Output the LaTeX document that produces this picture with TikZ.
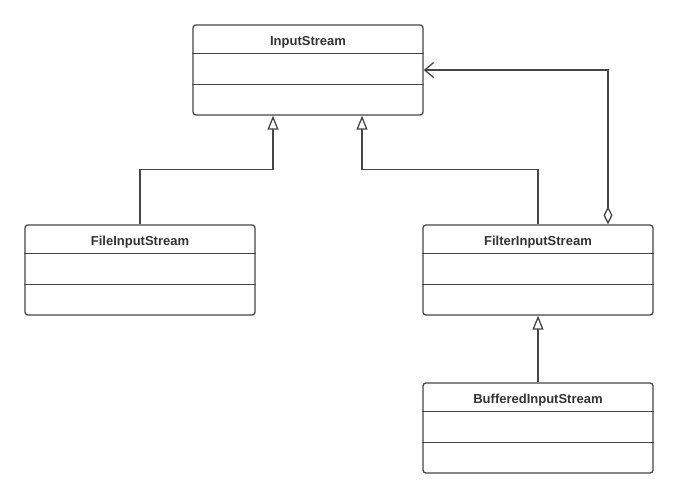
\documentclass[tikz,border=0pt]{standalone}
\usepackage{fontspec}
\setmainfont{Liberation Sans}
\usetikzlibrary{arrows.meta}
\definecolor{umlline}{HTML}{454545}
\definecolor{umltext}{HTML}{333333}
% one class box: name, centre, title
\newcommand{\umlbox}[3]{%
  \node[umlclass] (#1) at (#2) {};
  \node[umltitle] (#1-t) at ([yshift=-21.5pt]#1.north) {#3};
  \draw[umlline, line width=1.3pt] ([yshift=-29pt]#1.north west) -- ([yshift=-29pt]#1.north east);
  \draw[umlline, line width=1.3pt] ([yshift=-60pt]#1.north west) -- ([yshift=-60pt]#1.north east);
}

\begin{document}
\begin{tikzpicture}[x=1pt, y=-1pt,
  umlclass/.style={draw=umlline, line width=1.3pt, rounded corners=3pt, minimum width=230pt, minimum height=90pt, inner sep=0pt},
  umltitle/.style={text=umltext, font=\fontsize{13}{15}\selectfont\bfseries, inner sep=0pt, anchor=base},
  gen/.style={draw=umlline, line width=1.3pt, -{Triangle[open, length=14pt, width=11pt, fill=white]}},
  agg/.style={draw=umlline, line width=1.3pt, {Diamond[open, length=18pt, width=9pt, fill=white]}-{Straight Barb[length=9pt, width=15pt]}}]

\path[use as bounding box] (0,0) rectangle (678,498);

% Classes
\umlbox{in}{308,70}{InputStream}
\umlbox{file}{140,270}{FileInputStream}
\umlbox{filt}{538,270}{FilterInputStream}
\umlbox{buf}{538,428}{BufferedInputStream}

% Inheritance
\draw[gen] (file.north) -- ++(0,-55) -| ([xshift=-35pt]in.south);
\draw[gen] (filt.north) -- ++(0,-55) -| ([xshift=54pt]in.south);
\draw[gen] (buf.north) -- (filt.south);

% Aggregation
\draw[agg] ([xshift=70pt]filt.north) |- (in.east);
\end{tikzpicture}
\end{document}
